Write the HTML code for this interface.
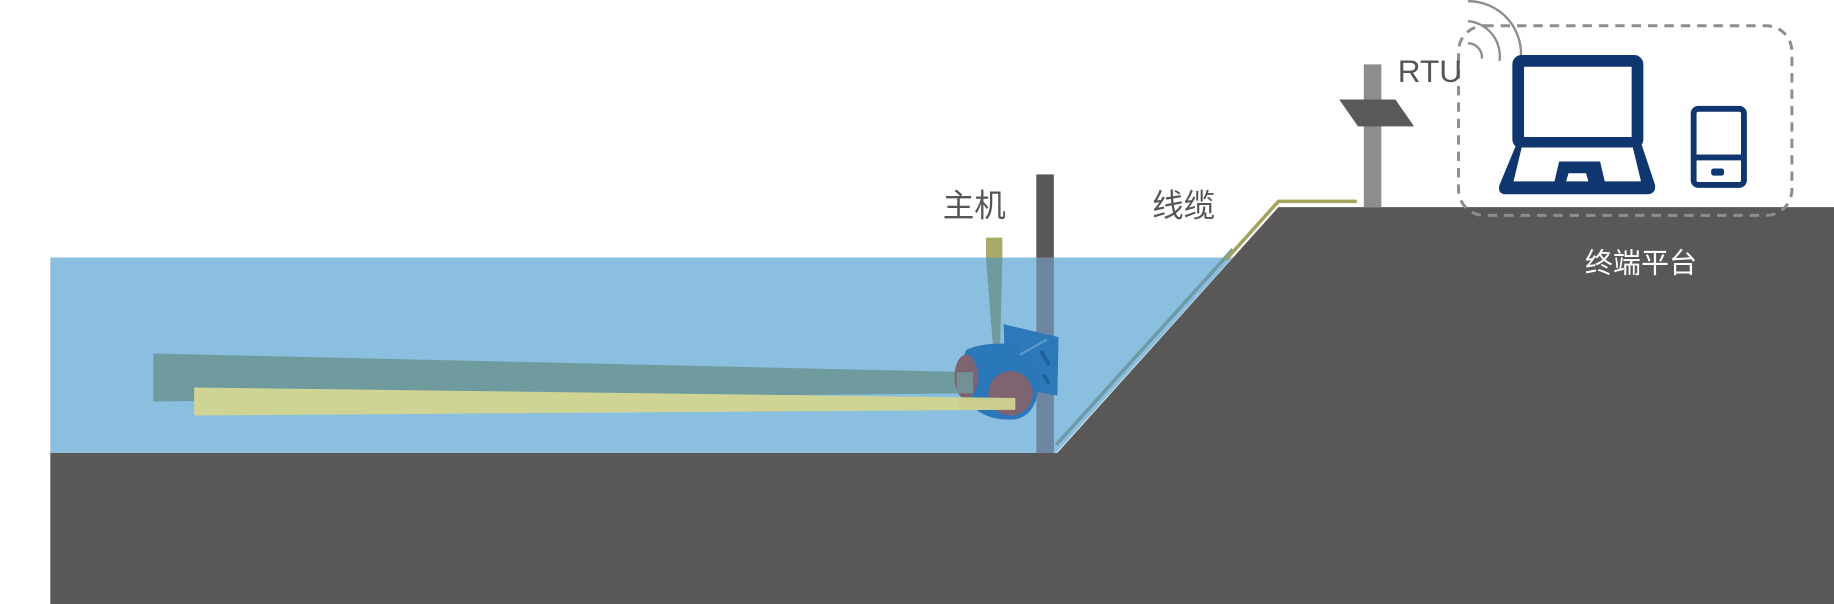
<!DOCTYPE html>
<html><head><meta charset="utf-8"><style>
html,body{margin:0;padding:0;background:#fff;width:1834px;height:604px;overflow:hidden}
text{font-family:"Liberation Sans","Noto Sans CJK SC",sans-serif}
</style></head><body>
<svg width="1834" height="604" viewBox="0 0 1568 516" preserveAspectRatio="none" xmlns="http://www.w3.org/2000/svg">
<!-- ground -->
<rect x="43" y="387" width="1525" height="129" fill="#595857"/>
<polygon points="1093,177 1568,177 1568,388 903,388" fill="#595857"/>
<!-- water -->
<polygon points="43,220 1054,220 903,387 43,387" fill="#8bbfdf"/>
<!-- slope line -->
<line x1="903" y1="380" x2="1054" y2="213" stroke="#6d9aa6" stroke-width="3"/>
<!-- cable -->
<polyline points="1160,172 1093,172 1048,222" fill="none" stroke="#a3a35e" stroke-width="3"/>
<!-- main pole -->
<rect x="886" y="149" width="15" height="71" fill="#595857"/>
<rect x="886" y="220" width="15" height="167" fill="#6f86a0"/>
<!-- beams -->
<polygon points="131,302 832,318 832,336 131,343" fill="#6f9b9f"/>
<polygon points="843,203 857,203 857,220 843,220" fill="#a8ab68"/>
<polygon points="843,220 857,220 855,297 849,297" fill="#6f9b9f"/>
<!-- device -->
<polygon points="858,277 905,288 904,338 860,330" fill="#2c78b8"/>
<path d="M826,299 Q840,292 868,294 Q885,302 888,325 Q888,352 870,358 Q845,361 830,346 Q816,322 826,299Z" fill="#2a77b9"/>
<line x1="872" y1="303" x2="895" y2="290" stroke="#5a95c8" stroke-width="2"/>
<path d="M890,300 L897,312 M892,320 L897,328" stroke="#1f5f9a" stroke-width="3"/>
<ellipse cx="826" cy="322" rx="10" ry="19" fill="#7d6470"/>
<circle cx="864" cy="336" r="19" fill="#7d6470"/>
<rect x="818" y="318" width="14" height="18" fill="#6f9b9f" opacity="0.8"/>
<polygon points="166,331 868,340 868,350 166,355" fill="#cfd495"/>
<polygon points="820,340 868,340 868,350 820,350" fill="#c9c98e" opacity="0.6"/>
<!-- RTU -->
<rect x="1166" y="55" width="15" height="122" fill="#8e8d8d"/>
<polygon points="1145,85 1193,85 1209,108 1161,108" fill="#5a5958"/>
<!-- dashed box -->
<rect x="1247" y="22" width="285" height="162" rx="22" fill="none" stroke="#8e8d8d" stroke-width="2.5" stroke-dasharray="8,6"/>
<!-- wifi -->
<g fill="none" stroke="#8e8d8d" stroke-width="2">
<path d="M1255,37 A12,12 0 0 1 1267,50"/>
<path d="M1255,18 A30,30 0 0 1 1282,52"/>
<path d="M1255,1 A45,45 0 0 1 1300,52"/>
</g>
<!-- laptop -->
<rect x="1298" y="52" width="102" height="70" rx="3" fill="none" stroke="#0f366e" stroke-width="10"/>
<path d="M1297,122 L1403,122 L1415,158 Q1416,166 1408,166 L1288,166 Q1280,166 1282,158 Z" fill="#0f366e"/>
<polygon points="1301,126 1396,126 1403,155 1372,155 1368,138 1333,138 1329,155 1294,155" fill="#fff"/>
<polygon points="1341,148 1356,148 1358,155 1339,155" fill="#fff"/>
<!-- phone -->
<rect x="1448" y="93" width="43" height="65" rx="4" fill="none" stroke="#0f366e" stroke-width="5"/>
<rect x="1448" y="132" width="43" height="5" fill="#0f366e"/>
<rect x="1463" y="144" width="11" height="6" rx="2" fill="#0f366e"/>
<!-- labels -->
<text x="806" y="185" font-size="27" fill="#555">主机</text>
<text x="985" y="185" font-size="27" fill="#555">线缆</text>
<text x="1195" y="70" font-size="27" fill="#555">RTU</text>
<text x="1355" y="233" font-size="24" fill="#fff">终端平台</text>
</svg>
</body></html>
